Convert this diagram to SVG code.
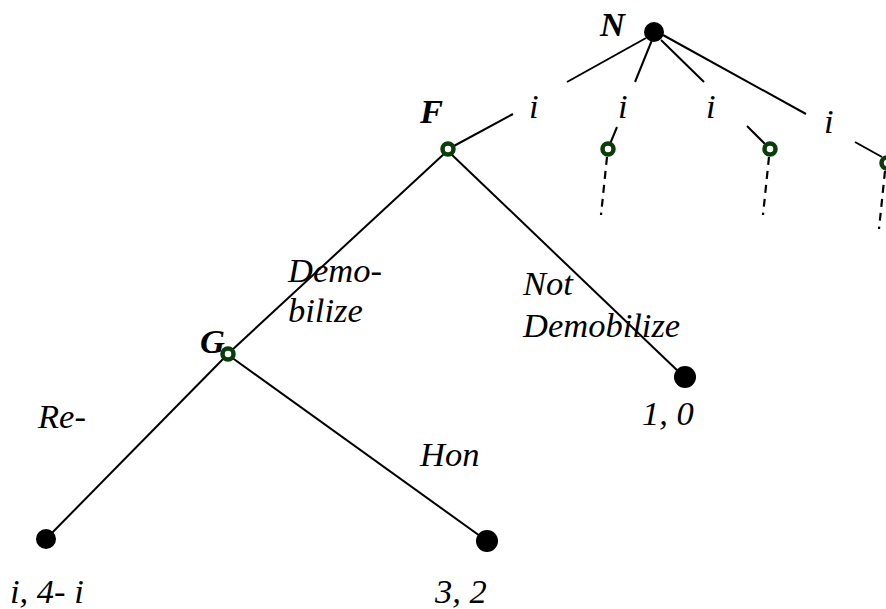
<svg xmlns="http://www.w3.org/2000/svg" width="886" height="609" viewBox="0 0 886 609">
<style>
  .edge { stroke: #000; stroke-width: 2; fill: none; stroke-linecap: butt; }
  .dash { stroke: #000; stroke-width: 2.2; fill: none; stroke-dasharray: 8 6; }
  .dec { fill: #fff; stroke: #0b3d0b; stroke-width: 4.5; }
  .term { fill: #000; }
  .lbl { font-family: "Liberation Serif", "Times New Roman", serif; font-style: italic; font-size: 34.5px; fill: #000; }
  .pl { font-family: "Liberation Serif", "Times New Roman", serif; font-style: italic; font-weight: bold; font-size: 34.5px; fill: #000; }
</style>
<rect width="886" height="609" fill="#fff"/>
<g id="connectors">
  <line class="edge" x1="646" y1="38" x2="567" y2="82"/>
  <line class="edge" x1="652" y1="40" x2="635" y2="82"/>
  <line class="edge" x1="661" y1="40" x2="704" y2="82"/>
  <line class="edge" x1="663" y1="35" x2="806" y2="114"/>
  <line class="edge" x1="452" y1="147" x2="513" y2="114"/>
  <line class="edge" x1="617" y1="127" x2="610" y2="144"/>
  <line class="edge" x1="747" y1="126" x2="765" y2="144"/>
  <line class="edge" x1="855" y1="142" x2="882" y2="157"/>
  <line class="dash" x1="607" y1="157" x2="601" y2="215"/>
  <line class="dash" x1="769" y1="157" x2="763" y2="215"/>
  <line class="dash" x1="885" y1="171" x2="879" y2="229"/>
  <line class="edge" x1="445" y1="153" x2="231" y2="351"/>
  <line class="edge" x1="450" y1="153" x2="680" y2="373"/>
  <line class="edge" x1="225" y1="357" x2="46" y2="539"/>
  <line class="edge" x1="231" y1="357" x2="487" y2="541"/>
</g>
<g id="node-N">
  <circle class="term" cx="654" cy="32" r="10"/>
  <text class="pl" x="600" y="36">N</text>
</g>
<g id="node-F">
  <circle class="dec" cx="448" cy="149" r="5.5"/>
  <text class="pl" x="420" y="123">F</text>
</g>
<g id="node-G">
  <circle class="dec" cx="228" cy="354" r="5.5"/>
  <text class="pl" x="200" y="353">G</text>
</g>
<g id="node-c2"><circle class="dec" cx="608" cy="149" r="5.5"/></g>
<g id="node-c3"><circle class="dec" cx="770" cy="149" r="5.5"/></g>
<g id="node-c4"><circle class="dec" cx="887" cy="163" r="5.5"/></g>
<g id="node-t10">
  <circle class="term" cx="685" cy="377" r="11"/>
  <text class="lbl" x="642" y="425">1, 0</text>
</g>
<g id="node-tL">
  <circle class="term" cx="46" cy="539" r="10"/>
  <text class="lbl" x="10" y="603">i, 4- i</text>
</g>
<g id="node-t32">
  <circle class="term" cx="487" cy="541" r="11"/>
  <text class="lbl" x="435" y="603">3, 2</text>
</g>
<g id="labels">
  <text class="lbl" x="529" y="118">i</text>
  <text class="lbl" x="618" y="118">i</text>
  <text class="lbl" x="706" y="118">i</text>
  <text class="lbl" x="824" y="133">i</text>
  <text class="lbl" x="288" y="282">Demo-</text>
  <text class="lbl" x="288" y="322">bilize</text>
  <text class="lbl" x="523" y="295">Not</text>
  <text class="lbl" x="523" y="337">Demobilize</text>
  <text class="lbl" x="38" y="428">Re-</text>
  <text class="lbl" x="420" y="466">Hon</text>
</g>
</svg>
